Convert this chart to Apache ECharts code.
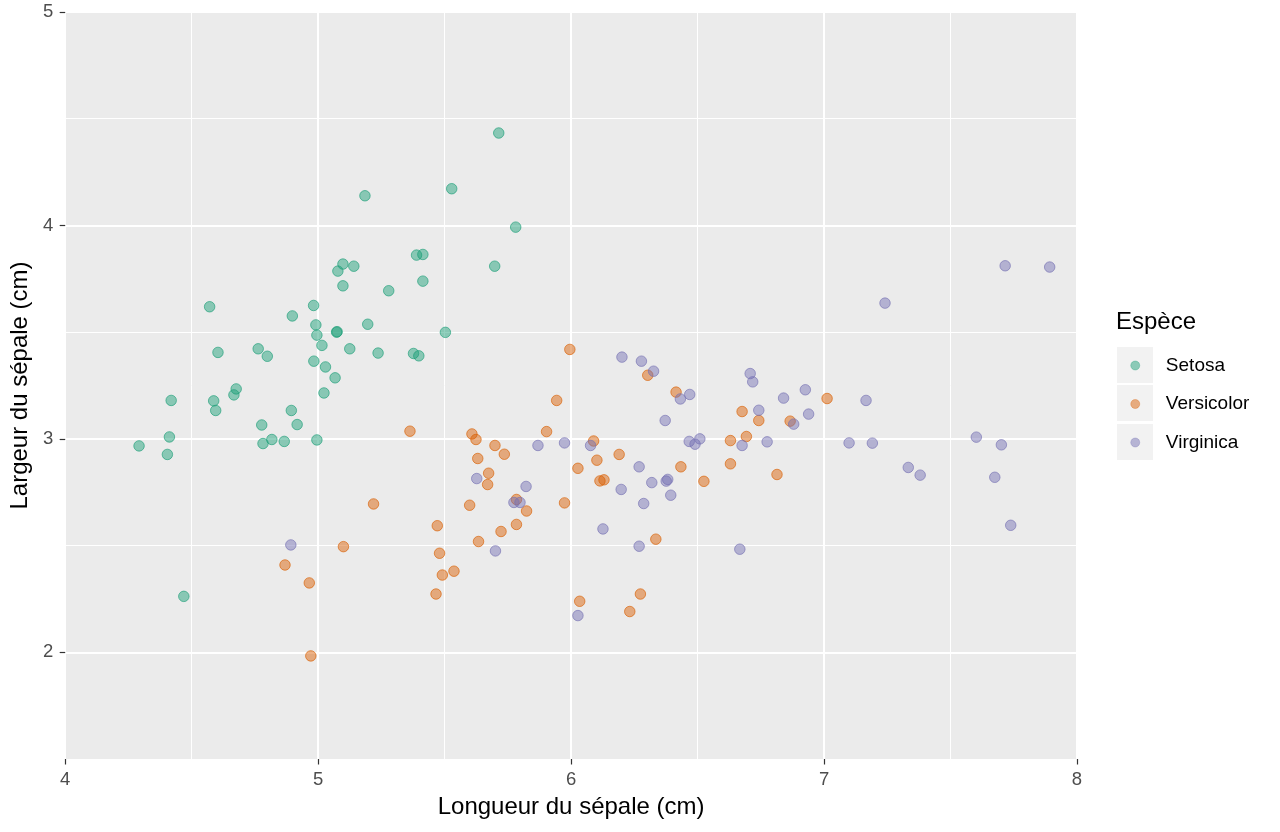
<!DOCTYPE html>
<html>
<head>
<meta charset="utf-8">
<title>Iris - sépales</title>
<script src="https://cdn.jsdelivr.net/npm/echarts@6.0.0/dist/echarts.min.js"></script>
<style>
  html, body { margin: 0; padding: 0; background: #fff; }
  #chart { width: 1280px; height: 832px; }
</style>
</head>
<body>
<div id="chart"></div>
<script>
// species names as shown in the legend
var species = ['Setosa', 'Versicolor', 'Virginica'];

// [longueur, largeur] du sépale (cm) (avec jitter)
var setosa = [
    [5.714, 4.433], [5.528, 4.172], [5.185, 4.139], [5.781, 3.992], [5.389, 3.861],
    [5.414, 3.864], [5.098, 3.819], [5.141, 3.809], [5.078, 3.786], [5.098, 3.717],
    [5.279, 3.694], [5.414, 3.739], [5.698, 3.809], [4.571, 3.619], [4.982, 3.625],
    [4.898, 3.576], [4.991, 3.534], [5.196, 3.537], [5.073, 3.500], [5.075, 3.502],
    [5.503, 3.499], [4.995, 3.486], [5.015, 3.438], [5.125, 3.422], [4.604, 3.405],
    [4.763, 3.422], [4.799, 3.387], [5.237, 3.402], [5.377, 3.400], [5.398, 3.389],
    [4.983, 3.364], [5.029, 3.337], [5.067, 3.286], [5.023, 3.215], [4.676, 3.234],
    [4.667, 3.206], [4.419, 3.180], [4.587, 3.178], [4.595, 3.133], [4.894, 3.133],
    [4.777, 3.065], [4.917, 3.067], [4.412, 3.009], [4.292, 2.967], [4.404, 2.927],
    [4.782, 2.978], [4.817, 2.997], [4.866, 2.988], [4.995, 2.995], [4.469, 2.262]
];

var versicolor = [
    [4.869, 2.409], [4.965, 2.325], [4.971, 1.983], [5.995, 3.419], [6.303, 3.298],
    [6.415, 3.219], [5.943, 3.180], [5.363, 3.036], [5.608, 3.023], [5.624, 2.997],
    [5.903, 3.034], [6.089, 2.990], [5.699, 2.969], [5.736, 2.928], [5.631, 2.908],
    [6.102, 2.900], [6.190, 2.927], [5.674, 2.839], [5.670, 2.786], [6.027, 2.862],
    [6.114, 2.803], [6.130, 2.808], [6.434, 2.869], [6.525, 2.801], [5.219, 2.695],
    [5.599, 2.689], [5.784, 2.716], [5.824, 2.662], [5.974, 2.700], [5.471, 2.593],
    [5.723, 2.566], [5.784, 2.599], [5.634, 2.519], [6.335, 2.530], [5.100, 2.495],
    [5.480, 2.464], [5.537, 2.380], [5.491, 2.362], [5.466, 2.273], [6.034, 2.239],
    [6.274, 2.273], [6.232, 2.191], [7.012, 3.189], [6.676, 3.128], [6.742, 3.086],
    [6.866, 3.083], [6.693, 3.011], [6.630, 2.992], [6.630, 2.883], [6.814, 2.833]
];

var virginica = [
    [4.892, 2.503], [6.201, 3.383], [6.278, 3.364], [6.326, 3.317], [6.469, 3.208],
    [6.432, 3.187], [6.372, 3.086], [6.467, 2.988], [6.490, 2.975], [6.509, 3.000],
    [5.869, 2.969], [5.974, 2.981], [6.077, 2.969], [6.269, 2.869], [5.627, 2.814],
    [5.822, 2.777], [6.319, 2.795], [6.376, 2.802], [6.382, 2.810], [6.198, 2.763],
    [5.774, 2.702], [5.798, 2.702], [6.287, 2.697], [6.394, 2.736], [6.126, 2.578],
    [6.269, 2.497], [5.701, 2.475], [6.027, 2.172], [6.708, 3.306], [6.718, 3.267],
    [6.926, 3.230], [6.840, 3.191], [6.742, 3.134], [6.939, 3.116], [6.880, 3.069],
    [6.676, 2.969], [6.775, 2.986], [7.166, 3.180], [7.099, 2.981], [7.191, 2.980],
    [7.333, 2.866], [7.380, 2.830], [7.602, 3.008], [7.701, 2.972], [7.675, 2.820],
    [7.738, 2.595], [6.667, 2.483], [7.241, 3.636], [7.716, 3.811], [7.892, 3.805]
];

var xTicks = [4, 5, 6, 7, 8];
var yTicks = [2, 3, 4, 5];

var FONT = '"Liberation Sans", Arial, Helvetica, sans-serif';
// Dark2 palette
var fills = ['rgba(27,158,119,0.6)', 'rgba(217,95,2,0.6)', 'rgba(117,112,179,0.6)'];
var strokes = ['rgba(27,158,119,0.8)', 'rgba(217,95,2,0.8)', 'rgba(117,112,179,0.8)'];

function makeSeries(name, data, i) {
    return {
        name: name,
        type: 'scatter',
        data: data,
        symbol: 'circle',
        symbolSize: 10.5,
        itemStyle: {
            color: fills[i],
            borderColor: strokes[i],
            borderWidth: 1
        },
        emphasis: { disabled: true }
    };
}

var legendData = species.map(function(name, i) {
    return { name: name, itemStyle: { color: fills[i], borderColor: strokes[i], borderWidth: 0.5 } };
});

var chart = echarts.init(document.getElementById('chart'), null, { renderer: 'canvas' });

var option = {
    animation: false,
    backgroundColor: '#ffffff',
    textStyle: { fontFamily: FONT },
    grid: {
        left: 64, right: 203, top: 12, bottom: 73,
        show: true,
        backgroundColor: '#EBEBEB',
        borderWidth: 0
    },
    legend: {
        orient: 'vertical',
        left: 1130.5,
        top: 356,
        padding: 0,
        itemWidth: 9,
        itemHeight: 9,
        itemGap: 19.5,
        icon: 'circle',
        selectedMode: false,
        data: legendData,
        // key boxes are 36px wide, labels start after them
        formatter: function(name) { return '\u00a0\u00a0\u00a0\u00a0' + name; },
        textStyle: {
            fontFamily: FONT,
            fontSize: 19,
            lineHeight: 19,
            color: '#000'
        }
    },
    graphic: [
        { type: 'rect', left: 1117, top: 347, shape: { width: 36, height: 36 }, style: { fill: '#F2F2F2' }, z: -1 },
        { type: 'rect', left: 1117, top: 385, shape: { width: 36, height: 36 }, style: { fill: '#F2F2F2' }, z: -1 },
        { type: 'rect', left: 1117, top: 424, shape: { width: 36, height: 36 }, style: { fill: '#F2F2F2' }, z: -1 },
        {
            type: 'text', x: 1116, y: 322,
            style: { text: 'Espèce', font: '24px ' + FONT, fill: '#000', verticalAlign: 'middle' }
        }
    ],
    xAxis: [{
        type: 'value',
        min: 4, max: 8, interval: 1,
        name: 'Longueur du sépale (cm)',
        nameLocation: 'middle',
        nameGap: 36,
        nameTextStyle: { fontFamily: FONT, fontSize: 24, color: '#000' },
        axisLine: { show: false },
        axisTick: { show: true, length: 5.5, lineStyle: { color: '#333333', width: 1.2 } },
        axisLabel: { fontFamily: FONT, fontSize: 18.5, color: '#4D4D4D', margin: 11 },
        splitLine: { show: true, lineStyle: { color: '#ffffff', width: 2 } }
    }, {
        type: 'value',
        min: 4, max: 8, interval: 0.5,
        axisLine: { show: false },
        axisTick: { show: false },
        axisLabel: { show: false },
        splitLine: { show: true, lineStyle: { color: '#ffffff', width: 1 } }
    }],
    yAxis: [{
        type: 'value',
        min: 1.5, max: 5,
        minInterval: 1, maxInterval: 1,
        name: 'Largeur du sépale (cm)',
        nameLocation: 'middle',
        nameGap: 28,
        nameTextStyle: { fontFamily: FONT, fontSize: 24, color: '#000' },
        axisLine: { show: false },
        axisTick: { show: true, length: 5.5, customValues: yTicks, lineStyle: { color: '#333333', width: 1.2 } },
        axisLabel: {
            fontFamily: FONT, fontSize: 18.5, color: '#4D4D4D', margin: 12,
            customValues: yTicks,
            formatter: function(v) { return (v % 1 === 0) ? String(v) : ''; }
        },
        splitLine: { show: true, lineStyle: { color: '#ffffff', width: 2 } }
    }, {
        type: 'value',
        min: 1.5, max: 5, interval: 0.5,
        position: 'left',
        axisLine: { show: false },
        axisTick: { show: false },
        axisLabel: { show: false },
        splitLine: { show: true, lineStyle: { color: '#ffffff', width: 1 } }
    }],
    series: [
        makeSeries(species[0], setosa, 0),
        makeSeries(species[1], versicolor, 1),
        makeSeries(species[2], virginica, 2)
    ]
};

chart.setOption(option);
</script>
</body>
</html>
